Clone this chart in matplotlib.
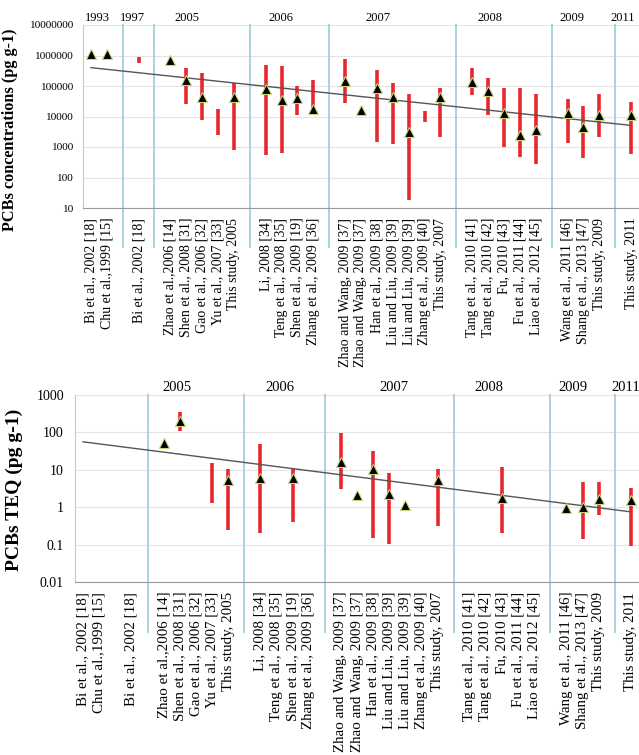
import numpy as np
import matplotlib
matplotlib.use("Agg")
import matplotlib.pyplot as plt
from matplotlib.ticker import FixedLocator, FixedFormatter, NullLocator

plt.rcParams['font.family'] = ['Liberation Serif', 'DejaVu Serif']

N = None
labels = ["Bi et al., 2002 [18]", "Chu et al.,1999 [15]", "", "Bi et al., 2002 [18]", "",
          "Zhao et al.,2006 [14]", "Shen et al., 2008 [31]", "Gao et al., 2006 [32]",
          "Yu et al., 2007 [33]", "This study, 2005", "",
          "Li, 2008 [34]", "Teng et al., 2008 [35]", "Shen et al., 2009 [19]",
          "Zhang et al., 2009 [36]", "",
          "Zhao and Wang, 2009 [37]", "Zhao and Wang, 2009 [37]", "Han et al., 2009 [38]",
          "Liu and Liu, 2009 [39]", "Liu and Liu, 2009 [39]", "Zhang et al., 2009 [40]",
          "This study, 2007", "",
          "Tang et al., 2010 [41]", "Tang et al., 2010 [42]", "Fu, 2010 [43]",
          "Fu et al., 2011 [44]", "Liao et al., 2012 [45]", "",
          "Wang et al., 2011 [46]", "Shang et al., 2013 [47]", "This study, 2009", "",
          "This study, 2011"]

# Top panel: PCBs concentrations (pg g-1)
conc_mid = [1.1e6, 1.1e6, N, N, N, 7.0e5, 1.56e5, 4.4e4, N, 4.4e4, N,
            7.7e4, 3.4e4, 3.9e4, 1.8e4, N,
            1.45e5, 1.6e4, 8.9e4, 4.2e4, 3.1e3, N, 4.2e4, N,
            1.37e5, 6.8e4, 1.26e4, 2.4e3, 3.7e3, N,
            1.35e4, 4.4e3, 1.15e4, N, 1.1e4]
conc_low = [N, N, N, 5.5e5, N, N, 2.5e4, 7.6e3, 2.4e3, 7.8e2, N,
            5.4e2, 6.6e2, 1.1e4, 1.8e4, N,
            2.8e4, N, 1.5e3, 1.3e3, 18.7, 6.6e3, 2.1e3, N,
            5.0e4, 1.1e4, 1.0e3, 4.7e2, 2.7e2, N,
            1.35e3, 4.2e2, 2.1e3, N, 6.0e2]
conc_high = [N, N, N, 9.1e5, N, N, 4.0e5, 2.6e5, 1.8e4, 1.3e5, N,
             4.9e5, 4.6e5, 1.0e5, 1.55e5, N,
             7.4e5, N, 3.3e5, 1.3e5, 5.4e4, 1.5e4, 8.3e4, N,
             3.8e5, 1.8e5, 8.9e4, 8.9e4, 5.4e4, N,
             3.7e4, 2.2e4, 5.6e4, N, 2.95e4]
conc_trend = [4.0e5, 5.1e3]

# Bottom panel: PCBs TEQ (pg g-1)
teq_mid = [N, N, N, N, N, 52, 205, N, N, 5.5, N,
           6.2, N, 6.2, N, N,
           16, 2.1, 10.2, 2.2, 1.13, N, 5.5, N,
           N, N, 1.78, N, N, N,
           0.95, 1.0, 1.7, N, 1.6]
teq_low = [N, N, N, N, N, N, 111, N, 1.3, 0.24, N,
           0.21, N, 0.41, N, N,
           3.0, N, 0.15, 0.107, N, N, 0.32, N,
           N, N, 0.21, N, N, N,
           N, 0.14, 0.61, N, 0.092]
teq_high = [N, N, N, N, N, N, 350, N, 14.8, 10.6, N,
            48, N, 10.9, N, N,
            94, N, 32, 8.3, N, N, 10.2, N,
            N, N, 12, N, N, N,
            N, 4.7, 4.7, N, 3.3]
teq_trend = [56, 0.75]

years_top = ["1993", "1997", "2005", "2006", "2007", "2008", "2009", "2011"]
years_bot = ["2005", "2006", "2007", "2008", "2009", "2011"]
seps_top = [2, 4, 10, 15, 23, 29, 33]
seps_bot = [4, 10, 15, 23, 29, 33]

# layout (category units) for year captions
ypos_top = [0.38, 2.64, 6.04, 11.95, 18.05, 25.1, 30.25, 33.46]
ypos_bot = [5.84, 12.2, 19.3, 25.2, 30.4, 33.7]

W, H = 639, 755
fig = plt.figure(figsize=(W / 100, H / 100), dpi=100)

def arr(a):
    return np.array([np.nan if v is None else v for v in a], dtype=float)

def panel(rect, mid, low, high, trend, ylim, ylabel, years, ypos, seps, ext, yticks,
          yticklabels, ylab_xy, xfs, yfs, labfs, yearfs, xpad, ypad):
    ax = fig.add_axes(rect)
    x = np.arange(len(labels))
    mid, low, high = arr(mid), arr(low), arr(high)
    ax.set_yscale('log')
    ax.set_ylim(*ylim)
    ax.set_xlim(-0.5, len(labels) - 0.5)
    ax.yaxis.set_major_locator(FixedLocator(yticks))
    ax.yaxis.set_major_formatter(FixedFormatter(yticklabels))
    ax.yaxis.set_minor_locator(NullLocator())
    ax.grid(axis='y', color='#e4e4e4', linewidth=0.8)
    ax.set_axisbelow(True)
    for s in ['top', 'right']:
        ax.spines[s].set_visible(False)
    ax.spines['left'].set_color('#c8c8c8')
    ax.spines['bottom'].set_color('#9a9a9a')
    ax.set_xticks(x)
    ax.set_xticklabels(labels, rotation=90, fontsize=xfs, va='top', ha='center')
    ax.tick_params(axis='x', length=0, pad=xpad)
    ax.tick_params(axis='y', length=0, labelsize=yfs, pad=ypad)
    for s in seps:
        ax.axvline(s, ymin=-ext, ymax=1, color='#a9d3e0', linewidth=1.4, clip_on=False, zorder=1)
    ok = ~np.isnan(low) & ~np.isnan(high)
    ax.vlines(x[ok], low[ok], high[ok], color='#e8272c', linewidth=2.6, zorder=3)
    ax.plot([0, len(labels) - 1], trend, color='#555555', linewidth=1.0, zorder=4)
    m = ~np.isnan(mid)
    ax.plot(x[m], mid[m], linestyle='none', marker='^', markersize=6.5,
            markerfacecolor='black', markeredgecolor='#c9d77a', markeredgewidth=0.8, zorder=5)
    for yl, p in zip(years, ypos):
        ax.text(p, 1.005, yl, transform=ax.get_xaxis_transform(), ha='center', va='bottom',
                fontsize=yearfs)
    ax.set_ylabel(ylabel, fontsize=labfs, fontweight='bold')
    ax.yaxis.set_label_coords(*ylab_xy)
    return ax

panel([83 / W, 1 - 208 / H, 1 - 83 / W, 183 / H], conc_mid, conc_low, conc_high, conc_trend,
      (10, 1e7), 'PCBs concentrations (pg g-1)', years_top, ypos_top, seps_top, 0.213,
      [10, 100, 1000, 10000, 100000, 1000000, 10000000],
      ['10', '100', '1000', '10000', '100000', '1000000', '10000000'],
      (-0.117, 0.43), 10.0, 8.2, 11.7, 9, 7, 7)

panel([75 / W, 1 - 582 / H, 1 - 75 / W, 187 / H], teq_mid, teq_low, teq_high, teq_trend,
      (0.01, 1000), 'PCBs TEQ (pg g-1)', years_bot, ypos_bot, seps_bot, 0.267,
      [0.01, 0.1, 1, 10, 100, 1000],
      ['0.01', '0.1', '1', '10', '100', '1000'],
      (-0.093, 0.49), 10.8, 10, 14, 10.5, 7, 8)

fig.savefig('out.png', dpi=100)
